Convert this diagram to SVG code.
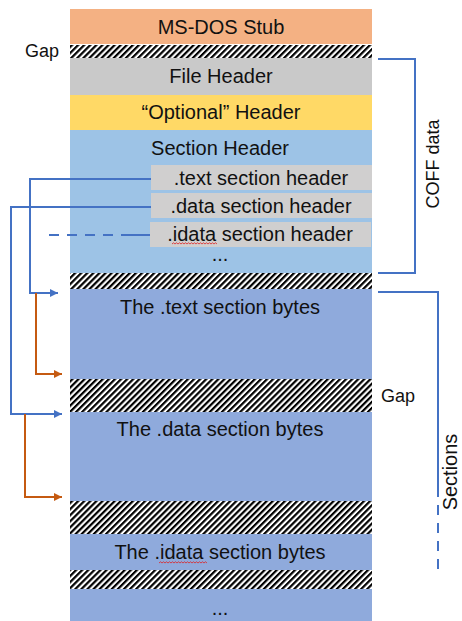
<svg xmlns="http://www.w3.org/2000/svg" width="462" height="621" viewBox="0 0 462 621">
<style>
text{font-family:"Liberation Sans",Arial,sans-serif;fill:#111;}
.lbl{font-size:20px;text-anchor:middle;}
.side{font-size:18px;}
.blue{fill:none;stroke:#4472C4;stroke-width:2;}
.orange{fill:none;stroke:#C55A11;stroke-width:2;}
.hatch{fill:url(#hatch);}
.squig{fill:none;stroke:#E02020;stroke-width:0.8;}
</style>
<defs>
<pattern id="hatch" patternUnits="userSpaceOnUse" width="4.3" height="10" patternTransform="rotate(45)">
<rect width="4.3" height="10" fill="#fff"/>
<rect width="2.2" height="10" fill="#000"/>
</pattern>
<marker id="ab" markerUnits="userSpaceOnUse" markerWidth="8" markerHeight="8" refX="8" refY="4" orient="auto">
<path d="M0,0 L8,4 L0,8 z" fill="#4472C4"/>
</marker>
<marker id="ao" markerUnits="userSpaceOnUse" markerWidth="8" markerHeight="8" refX="8" refY="4" orient="auto">
<path d="M0,0 L8,4 L0,8 z" fill="#C55A11"/>
</marker>
</defs>
<rect width="462" height="621" fill="#fff"/>

<g id="msdos"><rect x="70" y="9" width="302" height="35" fill="#F4B183"/><text class="lbl" x="221" y="34">MS-DOS Stub</text></g>
<g id="gap1"><rect class="hatch" x="70" y="45" width="302" height="13"/><text class="side" x="25" y="57">Gap</text></g>
<g id="fileheader"><rect x="70" y="58" width="302" height="37" fill="#C9C9C9"/><text class="lbl" x="221" y="83">File Header</text></g>
<g id="optheader"><rect x="70" y="95" width="302" height="35" fill="#FFD966"/><text class="lbl" x="221" y="119">“Optional” Header</text></g>
<g id="sectionheader"><rect x="70" y="130" width="302" height="143" fill="#9DC3E6"/><text class="lbl" x="220" y="155">Section Header</text><text class="lbl" x="220" y="261">...</text></g>
<g id="textsh"><rect x="151" y="165" width="221" height="25" fill="#D0CFCF"/><text class="lbl" x="261" y="185">.text section header</text></g>
<g id="datash"><rect x="151" y="193" width="221" height="25" fill="#D0CFCF"/><text class="lbl" x="261" y="213">.data section header</text></g>
<g id="idatash"><rect x="150" y="222" width="221" height="25" fill="#D0CFCF"/><text class="lbl" x="260" y="241">.idata section header</text><path class="squig" d="M172,244 l1.5,-1.2 l1.5,1.2 l1.5,-1.2 l1.5,1.2 l1.5,-1.2 l1.5,1.2 l1.5,-1.2 l1.5,1.2 l1.5,-1.2 l1.5,1.2 l1.5,-1.2 l1.5,1.2 l1.5,-1.2 l1.5,1.2 l1.5,-1.2 l1.5,1.2 l1.5,-1.2 l1.5,1.2 l1.5,-1.2 l1.5,1.2 l1.5,-1.2 l1.5,1.2 l1.5,-1.2 l1.5,1.2 l1.5,-1.2 l1.5,1.2 l1.5,-1.2 l1.5,1.2 l1.5,-1.2 l1.5,1.2"/></g>
<g id="gap2"><rect class="hatch" x="70" y="273" width="302" height="16"/></g>
<g id="textbytes"><rect x="70" y="289" width="302" height="90" fill="#8FAADC"/><text class="lbl" x="220" y="314">The .text section bytes</text></g>
<g id="gap3"><rect class="hatch" x="70" y="379" width="302" height="33"/><text class="side" x="381" y="402">Gap</text></g>
<g id="databytes"><rect x="70" y="412" width="302" height="89" fill="#8FAADC"/><text class="lbl" x="220" y="436">The .data section bytes</text></g>
<g id="gap4"><rect class="hatch" x="70" y="501" width="302" height="33"/></g>
<g id="idatabytes"><rect x="70" y="534" width="302" height="36" fill="#8FAADC"/><text class="lbl" x="220" y="559">The .idata section bytes</text><path class="squig" d="M159,563 l1.5,-1.2 l1.5,1.2 l1.5,-1.2 l1.5,1.2 l1.5,-1.2 l1.5,1.2 l1.5,-1.2 l1.5,1.2 l1.5,-1.2 l1.5,1.2 l1.5,-1.2 l1.5,1.2 l1.5,-1.2 l1.5,1.2 l1.5,-1.2 l1.5,1.2 l1.5,-1.2 l1.5,1.2 l1.5,-1.2 l1.5,1.2 l1.5,-1.2 l1.5,1.2 l1.5,-1.2 l1.5,1.2 l1.5,-1.2 l1.5,1.2 l1.5,-1.2 l1.5,1.2 l1.5,-1.2 l1.5,1.2 l1.5,-1.2 l1.5,1.2"/></g>
<g id="gap5"><rect class="hatch" x="70" y="570" width="302" height="19"/></g>
<g id="morebytes"><rect x="70" y="589" width="302" height="32" fill="#8FAADC"/><text class="lbl" x="220" y="615">...</text></g>

<g id="coff"><text class="side" transform="translate(439,164) rotate(-90)" text-anchor="middle">COFF data</text></g>
<g id="sections"><text style="font-size:20px" transform="translate(457,472) rotate(-90)" text-anchor="middle">Sections</text></g>

<g id="connectors">
<path class="blue" d="M151,179 H30 V293 H58" marker-end="url(#ab)"/>
<path class="blue" d="M151,207 H11 V414 H62" marker-end="url(#ab)"/>
<path class="blue" d="M49,235 H150" stroke-dasharray="10 8 10 8 10 8 10 8 30"/>
<path class="orange" d="M36,293 V374 H62" marker-end="url(#ao)"/>
<path class="orange" d="M25,414 V497 H62" marker-end="url(#ao)"/>
<path class="blue" d="M378,59 H415 V273 H378"/>
<path class="blue" d="M378,292 H438 V497"/>
<path class="blue" d="M438,505 V575" stroke-dasharray="10 8"/>
</g>
</svg>
